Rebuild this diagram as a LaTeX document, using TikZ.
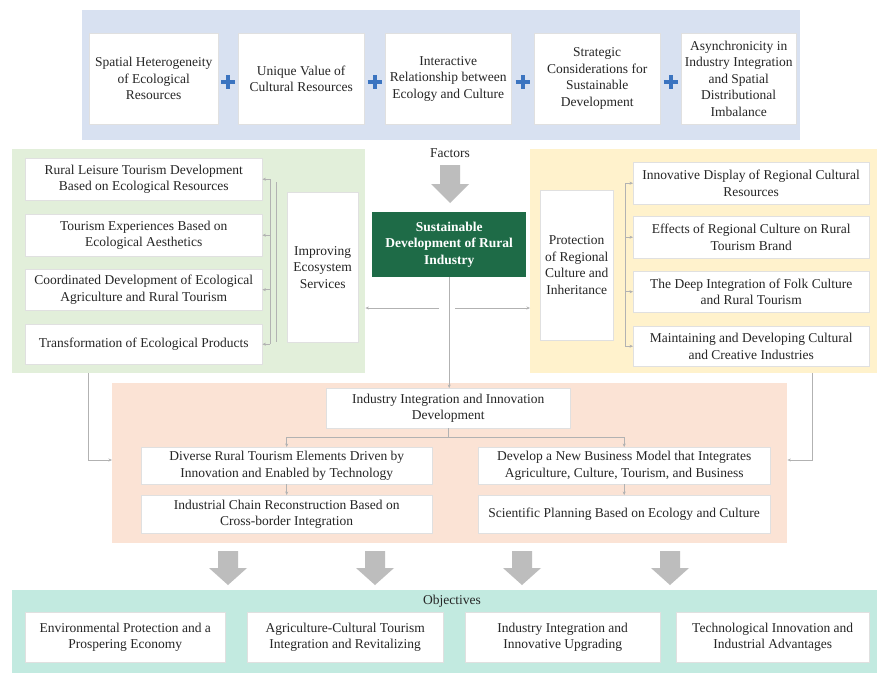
\documentclass[tikz,border=0pt]{standalone}
\usepackage{fontspec}
\setmainfont{Liberation Serif}
\usetikzlibrary{arrows.meta}
\definecolor{bluepanel}{HTML}{D8E1F1}
\definecolor{greenpanel}{HTML}{E2EFDA}
\definecolor{yellowpanel}{HTML}{FFF2CC}
\definecolor{peachpanel}{HTML}{FBE3D5}
\definecolor{mintpanel}{HTML}{C2EAE0}
\definecolor{darkgreen}{HTML}{1E6B47}
\definecolor{plusblue}{HTML}{3B74C0}
\definecolor{arrowgrey}{HTML}{BDBDBD}
\newcommand\fsz{\fontsize{13.5}{16.5}\selectfont}
\newcommand\grarrow[4]{%
  \fill[arrowgrey] (#1-10,#2) -- (#1+10,#2) -- (#1+10,#3) -- (#1+19,#3) -- (#1,#4) -- (#1-19,#3) -- (#1-10,#3) -- cycle;}
\newcommand\plussign[2]{%
  \draw[plusblue, line width=4pt] (#1-7,#2) -- (#1+7,#2) (#1,#2-7) -- (#1,#2+7);}
\tikzset{
  panel/.style={draw=none, anchor=north west, inner sep=0pt},
  wbox/.style={draw=black!12, fill=white, anchor=north west, align=center,
               inner sep=1pt, font=\fsz, text=black!85},
  conn/.style={draw=black!30, line width=0.5pt},
  tip/.style={-{Stealth[length=3.5pt,width=3pt]}},
  lbl/.style={font=\fsz, text=black!85, inner sep=0pt},
}
\begin{document}
\begin{tikzpicture}[x=1pt,y=-1pt]
\useasboundingbox (0,0) rectangle (877,673);
\fill[white] (0,0) rectangle (877,673);

% ---------- panels ----------
\node[panel, fill=bluepanel, minimum width=718pt, minimum height=130pt] (toppanel) at (82,10) {};
\node[panel, fill=greenpanel, minimum width=353pt, minimum height=224pt] (greenp) at (12,149) {};
\node[panel, fill=yellowpanel, minimum width=347pt, minimum height=224pt] (yellowp) at (530,149) {};
\node[panel, fill=peachpanel, minimum width=675pt, minimum height=160pt] (peachp) at (112,383) {};
\node[panel, fill=mintpanel, minimum width=865pt, minimum height=83pt] (mintp) at (12,590) {};

% ---------- factors ----------
\node[wbox, minimum width=129pt, minimum height=91pt] (f1) at (89,33) {Spatial Heterogeneity\\of Ecological\\Resources};
\node[wbox, minimum width=126pt, minimum height=91pt] (f2) at (238,33) {Unique Value of\\Cultural Resources};
\node[wbox, minimum width=126pt, minimum height=91pt] (f3) at (385,33) {Interactive\\Relationship between\\Ecology and Culture};
\node[wbox, minimum width=126pt, minimum height=91pt] (f4) at (534,33) {Strategic\\Considerations for\\Sustainable\\Development};
\node[wbox, minimum width=115pt, minimum height=91pt] (f5) at (681,33) {Asynchronicity in\\Industry Integration\\and Spatial\\Distributional\\Imbalance};
\plussign{228}{82}
\plussign{374.5}{82}
\plussign{522.5}{82}
\plussign{670.5}{82}

\node[lbl] (factors) at (450,153) {Factors};
\grarrow{450}{165}{184}{203}

% ---------- centre ----------
\node[panel, fill=darkgreen, minimum width=154pt, minimum height=65pt, align=center,
      font=\fsz\bfseries, text=white] (main) at (372,212) {};
\node[font=\fsz\bfseries, text=white, align=center] (maintext) at (main.center) {Sustainable\\Development of Rural\\Industry};

% ---------- left (ecology) ----------
\node[wbox, minimum width=237pt, minimum height=42pt] (l1) at (25,158) {Rural Leisure Tourism Development\\Based on Ecological Resources};
\node[wbox, minimum width=237pt, minimum height=42pt] (l2) at (25,214) {Tourism Experiences Based on\\Ecological Aesthetics};
\node[wbox, minimum width=237pt, minimum height=41pt] (l3) at (25,269) {Coordinated Development of Ecological\\Agriculture and Rural Tourism};
\node[wbox, minimum width=237pt, minimum height=40pt] (l4) at (25,324) {Transformation of Ecological Products};
\node[wbox, minimum width=71pt, minimum height=150pt] (eco) at (287,192) {Improving\\Ecosystem\\Services};

\coordinate (lbusT) at (270,179);
\coordinate (lbusB) at (270,344);
\draw[conn] (lbusT) -- (lbusB);
\draw[conn] (276,182) -- (276,342);
\foreach \b in {l1,l2,l3,l4} {
  \draw[conn,tip] (lbusT |- \b.east) -- (\b.east);
}

% ---------- right (culture) ----------
\node[wbox, minimum width=236pt, minimum height=42pt] (r1) at (633,162) {Innovative Display of Regional Cultural\\Resources};
\node[wbox, minimum width=236pt, minimum height=42pt] (r2) at (633,216) {Effects of Regional Culture on Rural\\Tourism Brand};
\node[wbox, minimum width=236pt, minimum height=41pt] (r3) at (633,271) {The Deep Integration of Folk Culture\\and Rural Tourism};
\node[wbox, minimum width=236pt, minimum height=40pt] (r4) at (633,326) {Maintaining and Developing Cultural\\and Creative Industries};
\node[wbox, minimum width=73pt, minimum height=150pt] (cult) at (540,190) {Protection\\of Regional\\Culture and\\Inheritance};

\coordinate (rbusT) at (625,183);
\coordinate (rbusB) at (625,346);
\draw[conn] (rbusT) -- (rbusB);
\foreach \b in {r1,r2,r3,r4} {
  \draw[conn,tip] (rbusT |- \b.west) -- (\b.west);
}

% ---------- industry integration ----------
\node[wbox, minimum width=244pt, minimum height=40pt] (ii) at (326,388) {Industry Integration and Innovation\\Development};
\node[wbox, minimum width=291pt, minimum height=37pt] (p1) at (141,447) {Diverse Rural Tourism Elements Driven by\\Innovation and Enabled by Technology};
\node[wbox, minimum width=291pt, minimum height=38pt] (p2) at (141,495) {Industrial Chain Reconstruction Based on\\Cross-border Integration};
\node[wbox, minimum width=292pt, minimum height=37pt] (q1) at (478,447) {Develop a New Business Model that Integrates\\Agriculture, Culture, Tourism, and Business};
\node[wbox, minimum width=292pt, minimum height=38pt] (q2) at (478,495) {Scientific Planning Based on Ecology and Culture};

\coordinate (split) at (ii.south |- 0,437);
\draw[conn] (ii.south) -- (split);
\draw[conn,tip] (split) -| (p1.north);
\draw[conn,tip] (split) -| (q1.north);
\draw[conn,tip] (p1.south) -- (p2.north);
\draw[conn,tip] (q1.south) -- (q2.north);

% ---------- connectors around centre ----------
\coordinate (hub) at (main.south |- 0,308);
\draw[conn,tip] (main.south) -- (main.south |- ii.north);
\draw[conn,tip] ([xshift=-10pt]hub) -- (greenp.east |- hub);
\draw[conn,tip] ([xshift=6pt]hub) -- (yellowp.west |- hub);
\draw[conn,tip] (greenp.south -| 88,0) |- (peachp.west |- 0,460);
\draw[conn,tip] (yellowp.south -| 812,0) |- (peachp.east |- 0,460);

% ---------- objectives ----------
\grarrow{228}{551}{568}{585}
\grarrow{375}{551}{568}{585}
\grarrow{522}{551}{568}{585}
\grarrow{670}{551}{568}{585}

\node[lbl] (objectives) at (452,601) {Objectives};
\node[wbox, minimum width=200pt, minimum height=50pt] (o1) at (25,612) {Environmental Protection and a\\Prospering Economy};
\node[wbox, minimum width=196pt, minimum height=50pt] (o2) at (247,612) {Agriculture-Cultural Tourism\\Integration and Revitalizing};
\node[wbox, minimum width=195pt, minimum height=50pt] (o3) at (465,612) {Industry Integration and\\Innovative Upgrading};
\node[wbox, minimum width=193pt, minimum height=50pt] (o4) at (676,612) {Technological Innovation and\\Industrial Advantages};
\end{tikzpicture}
\end{document}
